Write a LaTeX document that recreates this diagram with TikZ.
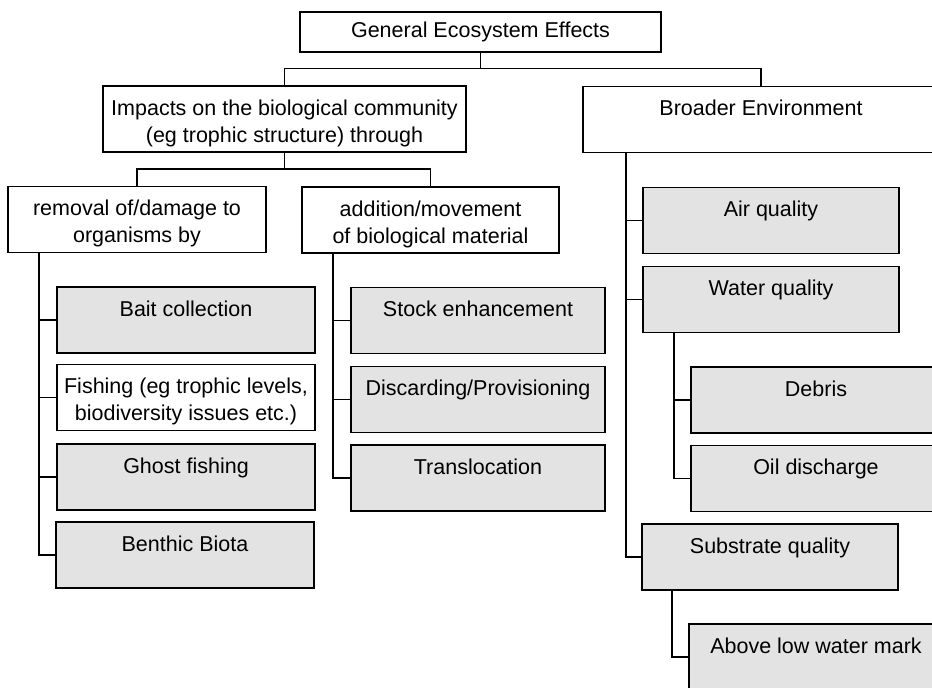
\documentclass[tikz,border=0pt]{standalone}
\usepackage{fontspec}
\setmainfont{Liberation Sans}
\begin{document}
\begin{tikzpicture}[x=1pt,y=-1pt,
	base/.style={draw,line width=1.4pt,align=center,inner sep=0pt,font=\fontsize{21.5}{27}\selectfont},
	box/.style={base,minimum width=258pt,text height=29pt,text depth=37pt},
	two/.style={text height=56pt,text depth=10pt},
	shaded/.style={box,fill=black!11},
	link/.style={line width=1.2pt}]
	\useasboundingbox (0,0) rectangle (932,688);
	\clip (0,0) rectangle (932,688);
	% upper levels
	\node[base,minimum width=361pt,minimum height=40pt] (gen) at (480.5,32) {General Ecosystem Effects};
	\node[box,two,minimum width=363pt] (imp) at (284.5,119) {Impacts on the biological community\\(eg trophic structure) through};
	\node[box,minimum width=356pt] (env) at (761,119.5) {Broader Environment};
	\node[box,two] (rem) at (137,219.5) {removal of/damage to\\organisms by};
	\node[box,two,minimum width=257pt] (add) at (430.5,220) {addition/movement\\of biological material};
	% removal of/damage to organisms
	\node[shaded] (bait) at (186,320) {Bait collection};
	\node[box,two] (fish) at (186,397.5) {Fishing (eg trophic levels,\\biodiversity issues etc.)};
	\node[shaded] (ghost) at (186,477) {Ghost fishing};
	\node[shaded] (benth) at (185,555) {Benthic Biota};
	% addition/movement
	\node[shaded,minimum width=254pt] (stock) at (478,320.5) {Stock enhancement};
	\node[shaded,minimum width=254pt] (disc) at (478,399.5) {Discarding/Provisioning};
	\node[shaded,minimum width=254pt] (trans) at (478,478) {Translocation};
	% broader environment
	\node[shaded,minimum width=256pt] (air) at (771,220.5) {Air quality};
	\node[shaded,minimum width=256pt] (water) at (771,299.5) {Water quality};
	\node[shaded,minimum width=250pt] (debris) at (816,400) {Debris};
	\node[shaded,minimum width=250pt] (oil) at (816,478.5) {Oil discharge};
	\node[shaded,minimum width=256pt] (subs) at (770,557) {Substrate quality};
	\node[shaded,minimum width=254pt] (above) at (816,657) {Above low water mark};
	% bars and spines
	\coordinate (bar1) at (0,68.5);
	\coordinate (bar2) at (0,169);
	\coordinate (lsp) at (39,0);
	\coordinate (msp) at (333,0);
	\coordinate (rsp) at (626,0);
	\coordinate (wsp) at (674,0);
	\coordinate (ssp) at (672,0);
	\draw[link] (gen.south) -- (gen.south |- bar1);
	\draw[link] (imp.north) |- (env.north |- bar1) -- (env.north);
	\draw[link] (imp.south) -- (imp.south |- bar2);
	\draw[link] (rem.north) |- (add.north |- bar2) -- (add.north);
	\draw[link] (rem.south -| lsp) |- (benth.west);
	\foreach \n in {bait,fish,ghost}
		\draw[link] (\n.west) -- (\n.west -| lsp);
	\draw[link] (add.south -| msp) |- (trans.west);
	\foreach \n in {stock,disc}
		\draw[link] (\n.west) -- (\n.west -| msp);
	\draw[link] (env.south -| rsp) |- (subs.west);
	\foreach \n in {air,water}
		\draw[link] (\n.west) -- (\n.west -| rsp);
	\draw[link] (water.south -| wsp) |- (oil.west);
	\draw[link] (debris.west) -- (debris.west -| wsp);
	\draw[link] (subs.south -| ssp) |- (above.west);
\end{tikzpicture}
\end{document}
